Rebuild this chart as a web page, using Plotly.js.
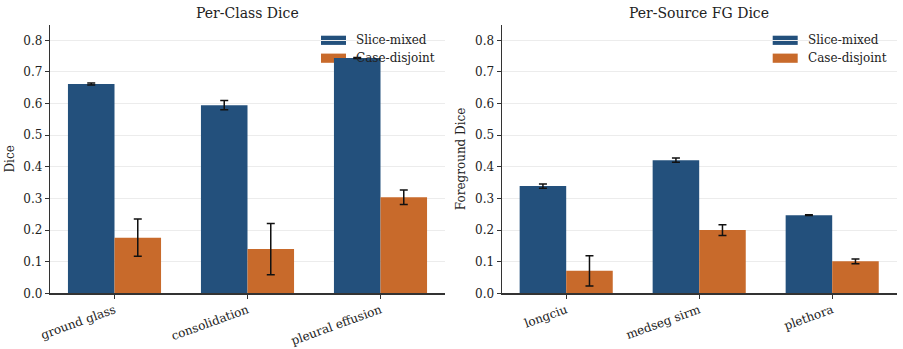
<!DOCTYPE html>
<html>
<head>
<meta charset="utf-8">
<script src="https://cdn.plot.ly/plotly-3.0.1.min.js"></script>
<style>html,body{margin:0;padding:0;background:#fff}#chart{width:903px;height:349px}</style>
</head>
<body>
<div id="chart"></div>
<script>
// ---- data ----
const classCats = ["ground glass", "consolidation", "pleural effusion"];
const classSliceMixed = [0.662, 0.595, 0.744];
const classSliceMixedErr = [0.003, 0.0145, 0.0015];
const classCaseDisjoint = [0.176, 0.140, 0.304];
const classCaseDisjointErr = [0.059, 0.081, 0.023];

const sourceCats = ["longciu", "medseg sirm", "plethora"];
const sourceSliceMixed = [0.339, 0.421, 0.247];
const sourceSliceMixedErr = [0.0065, 0.0065, 0.001];
const sourceCaseDisjoint = [0.071, 0.200, 0.101];
const sourceCaseDisjointErr = [0.048, 0.017, 0.0075];

const seriesNames = ["Slice-mixed", "Case-disjoint"];
const panelTitles = ["Per-Class Dice", "Per-Source FG Dice"];
const yTitles = ["Dice", "Foreground Dice"];
const yTicks = [0.0, 0.1, 0.2, 0.3, 0.4, 0.5, 0.6, 0.7, 0.8];

// ---- styles ----
const BLUE = "#23507c";
const ORANGE = "#c86a2b";
const FONT = "DejaVu Serif";
const FS = 12;
const W = 903, H = 349;

function barTrace(cats, vals, errs, color, offset, xa, ya, name) {
  return {
    type: "bar", x: cats, y: vals, name: name,
    xaxis: xa, yaxis: ya, width: 0.35, offset: offset,
    marker: {color: color, line: {width: 0}},
    error_y: {type: "data", array: errs, visible: true, color: "#111", thickness: 1.5, width: 4},
    showlegend: false, hoverinfo: "skip"
  };
}

const data = [
  barTrace(classCats, classSliceMixed, classSliceMixedErr, BLUE, -0.35, "x", "y", seriesNames[0]),
  barTrace(classCats, classCaseDisjoint, classCaseDisjointErr, ORANGE, 0, "x", "y", seriesNames[1]),
  barTrace(sourceCats, sourceSliceMixed, sourceSliceMixedErr, BLUE, -0.35, "x2", "y2", seriesNames[0]),
  barTrace(sourceCats, sourceCaseDisjoint, sourceCaseDisjointErr, ORANGE, 0, "x2", "y2", seriesNames[1])
];

const px = v => v / W;
const py = v => 1 - v / H;

const yDom = [py(293.3), py(24.5)];
function xAxis(dom, anchor) {
  return {
    domain: dom, anchor: anchor, type: "category", range: [-0.485, 2.485],
    showgrid: false, zeroline: false, showline: true, linecolor: "#333", linewidth: 1.2,
    ticks: "outside", ticklen: 4, tickwidth: 1, tickcolor: "#333",
    tickangle: -20, tickfont: {family: FONT, size: FS, color: "#222"}, fixedrange: true
  };
}
function yAxis(anchor, title) {
  return {
    domain: yDom, anchor: anchor, range: [0, 0.85],
    tickvals: yTicks, ticktext: yTicks.map(v => v.toFixed(1)),
    showgrid: true, gridcolor: "#ececec", gridwidth: 1, zeroline: false,
    showline: true, linecolor: "#333", linewidth: 1.2,
    ticks: "outside", ticklen: 4, tickwidth: 1, tickcolor: "#333",
    tickfont: {family: FONT, size: FS, color: "#222"},
    title: {text: title, font: {family: FONT, size: FS, color: "#222"}, standoff: 6},
    fixedrange: true
  };
}

const shapes = [];
const annotations = [];
// panel titles
const titleX = [247.5, 698.7];
panelTitles.forEach((t, i) => annotations.push({
  text: t, xref: "paper", yref: "paper", x: px(titleX[i]), y: py(13), xanchor: "center", yanchor: "middle",
  showarrow: false, font: {family: FONT, size: 14, color: "#222"}
}));
// manual legends (matplotlib style, no frame)
const legX = [321, 772.7];
const legRows = [40.3, 58.2];
const legColors = [BLUE, ORANGE];
legX.forEach(lx => {
  seriesNames.forEach((n, j) => {
    shapes.push({type: "rect", xref: "paper", yref: "paper", layer: "below",
      x0: px(lx), x1: px(lx + 25), y0: py(legRows[j] - 4.6), y1: py(legRows[j] + 4.6),
      fillcolor: legColors[j], line: {width: 0}});
    annotations.push({text: n, xref: "paper", yref: "paper", x: px(lx + 33), y: py(legRows[j]),
      xanchor: "left", yanchor: "middle", showarrow: false,
      font: {family: FONT, size: FS, color: "#222"}});
  });
});

const layout = {
  width: W, height: H, margin: {l: 0, r: 0, t: 0, b: 0},
  paper_bgcolor: "#fff", plot_bgcolor: "#fff",
  barmode: "overlay", showlegend: false,
  xaxis: xAxis([px(50), px(445)], "y"),
  yaxis: yAxis("x", yTitles[0]),
  xaxis2: xAxis([px(501.7), px(896.7)], "y2"),
  yaxis2: yAxis("x2", yTitles[1]),
  shapes: shapes, annotations: annotations,
  font: {family: FONT}
};

Plotly.newPlot("chart", data, layout, {displayModeBar: false, staticPlot: true});
</script>
</body>
</html>
